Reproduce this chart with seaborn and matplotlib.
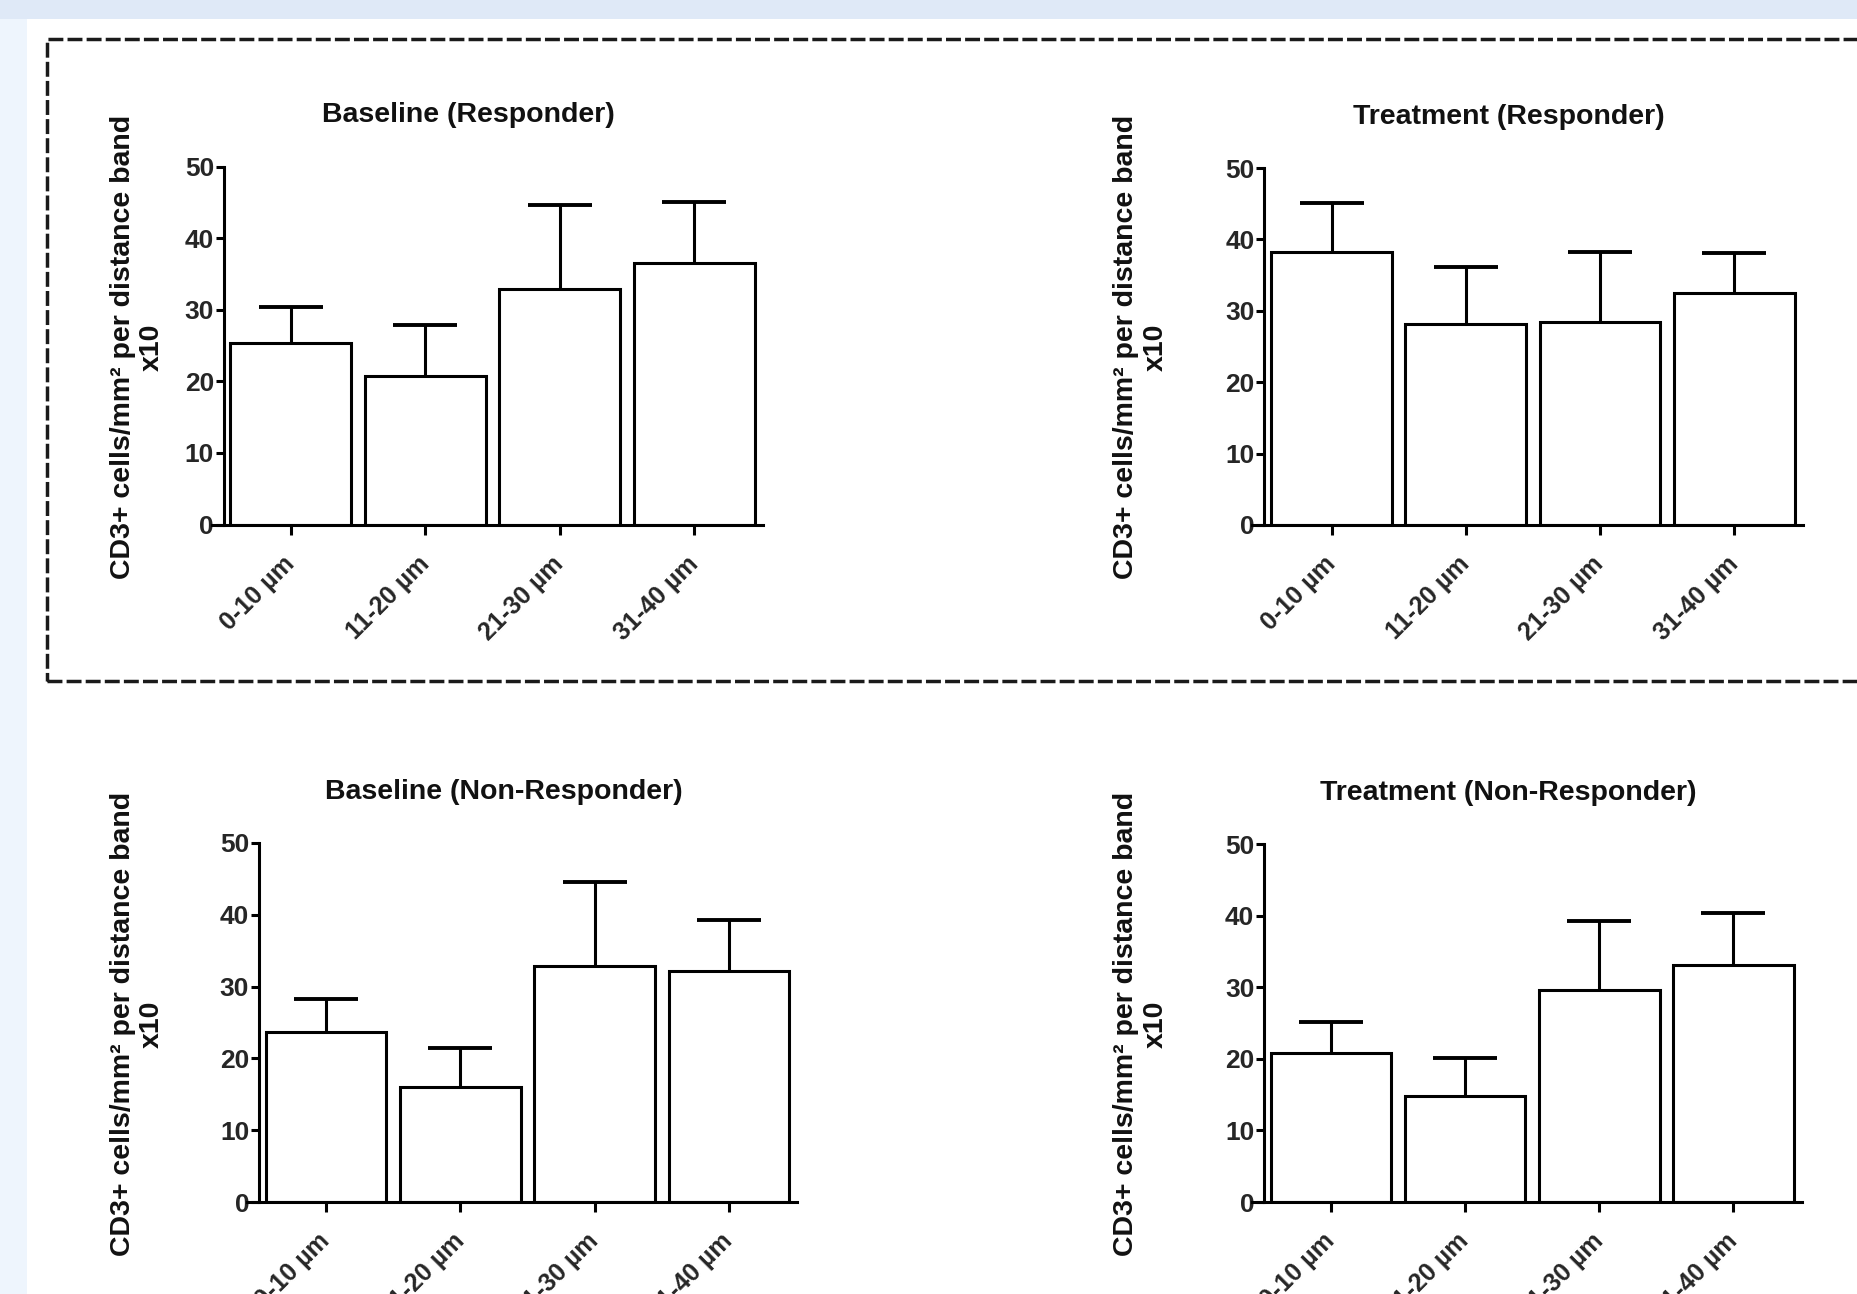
import matplotlib
matplotlib.use('Agg')
import matplotlib.pyplot as plt
import seaborn as sns
import pandas as pd
import numpy as np
from matplotlib.patches import Rectangle

# ---------------- data ----------------
categories = ['0-10 µm', '11-20 µm', '21-30 µm', '31-40 µm']
panel_titles = ['Baseline (Responder)', 'Treatment (Responder)',
                'Baseline (Non-Responder)', 'Treatment (Non-Responder)']
baseline_resp_mean = [25.3, 20.7, 32.9, 36.5]
baseline_resp_err = [5.1, 7.1, 11.7, 8.6]
treatment_resp_mean = [38.2, 28.2, 28.5, 32.5]
treatment_resp_err = [6.9, 8.0, 9.7, 5.6]
baseline_nonresp_mean = [23.7, 16.0, 32.8, 32.2]
baseline_nonresp_err = [4.6, 5.5, 11.8, 7.1]
treatment_nonresp_mean = [20.8, 14.8, 29.6, 33.1]
treatment_nonresp_err = [4.4, 5.3, 9.6, 7.2]
y_ticks = [0, 10, 20, 30, 40, 50]
y_label = 'CD3+ cells/mm² per distance band\nx10'

means = [baseline_resp_mean, treatment_resp_mean, baseline_nonresp_mean, treatment_nonresp_mean]
errs = [baseline_resp_err, treatment_resp_err, baseline_nonresp_err, treatment_nonresp_err]

# ---------------- style ----------------
sns.set_style('white')
plt.rcParams['font.family'] = ['Liberation Sans', 'DejaVu Sans']
plt.rcParams['font.weight'] = 'bold'

W, H = 1858, 1294
fig = plt.figure(figsize=(W / 100, H / 100), dpi=100, facecolor='white')

# background strips
fig.patches.append(Rectangle((0, 1 - 19 / H), 1, 19 / H, transform=fig.transFigure,
                             facecolor='#dfe9f7', edgecolor='none', zorder=0))
fig.patches.append(Rectangle((0, 0), 27 / W, 1 - 19 / H, transform=fig.transFigure,
                             facecolor='#eef5fd', edgecolor='none', zorder=0))
# dashed frame around top row
fig.patches.append(Rectangle((46.7 / W, 1 - 681 / H), (1950 - 46.7) / W, (681 - 39) / H,
                             transform=fig.transFigure, fill=False, edgecolor='#1a1a1a',
                             linewidth=2.5, linestyle=(0, (4.3, 1.2)), zorder=1))

# axes rectangles in pixel coords: left, top, right, bottom
rects = [(211.6, 166.5, 763.0, 524.5),
         (1252.4, 168.0, 1802.7, 525.0),
         (246.8, 843.0, 797.5, 1202.0),
         (1252.0, 844.0, 1801.6, 1202.0)]
ylabel_pos = [(137, 347), (1141, 347), (137, 1024), (1141, 1024)]

LW = 2.2
for i in range(4):
    l, t, r, b = rects[i]
    ax = fig.add_axes([l / W, 1 - b / H, (r - l) / W, (b - t) / H])
    ax.set_facecolor('none')
    df = pd.DataFrame({'band': categories, 'value': means[i]})
    sns.barplot(data=df, x='band', y='value', order=categories, color='white',
                saturation=1, edgecolor='black', linewidth=LW, width=0.9,
                errorbar=None, ax=ax, zorder=2)
    eb = ax.errorbar(np.arange(len(categories)), means[i],
                     yerr=[np.zeros(len(categories)), errs[i]], fmt='none',
                     ecolor='black', elinewidth=LW, capsize=23, capthick=2.8, zorder=1)
    # hide the caps that sit on the bar tops (lower error is zero)
    for cap in eb.lines[1]:
        if np.allclose(cap.get_ydata(), means[i]):
            cap.set_visible(False)
    for s in ['top', 'right']:
        ax.spines[s].set_visible(False)
    for s in ['left', 'bottom']:
        ax.spines[s].set_linewidth(LW)
        ax.spines[s].set_color('black')
    ax.spines['left'].set_position(('data', -0.5))
    ax.set_xlim(-0.59, 3.51)
    ax.set_ylim(0, 50)
    ax.set_yticks(y_ticks)
    ax.set_yticklabels([str(v) for v in y_ticks], fontsize=19, fontweight='bold')
    ax.set_xticks(np.arange(len(categories)))
    ax.set_xticklabels(categories, fontsize=18, fontweight='bold', rotation=45,
                       ha='right', va='center', rotation_mode='anchor')
    ax.tick_params(axis='y', direction='out', length=6, width=LW, pad=1, left=True,
                   color='black', labelsize=19)
    ax.tick_params(axis='x', direction='out', length=7.5, width=LW, pad=18, bottom=True,
                   color='black', labelsize=18)
    ax.set_xlabel('')
    ax.set_ylabel('')
    ax.text(0.466, 1.143, panel_titles[i], transform=ax.transAxes, ha='center',
            va='center', fontsize=20.5, fontweight='bold', color='#111111')
    lx, ly = ylabel_pos[i]
    fig.text(lx / W, 1 - ly / H, y_label, rotation=90, ha='center', va='center',
             multialignment='center', fontsize=20.5, fontweight='bold',
             linespacing=1.15, color='#111111')

fig.savefig('out.png', dpi=100, facecolor='white')
